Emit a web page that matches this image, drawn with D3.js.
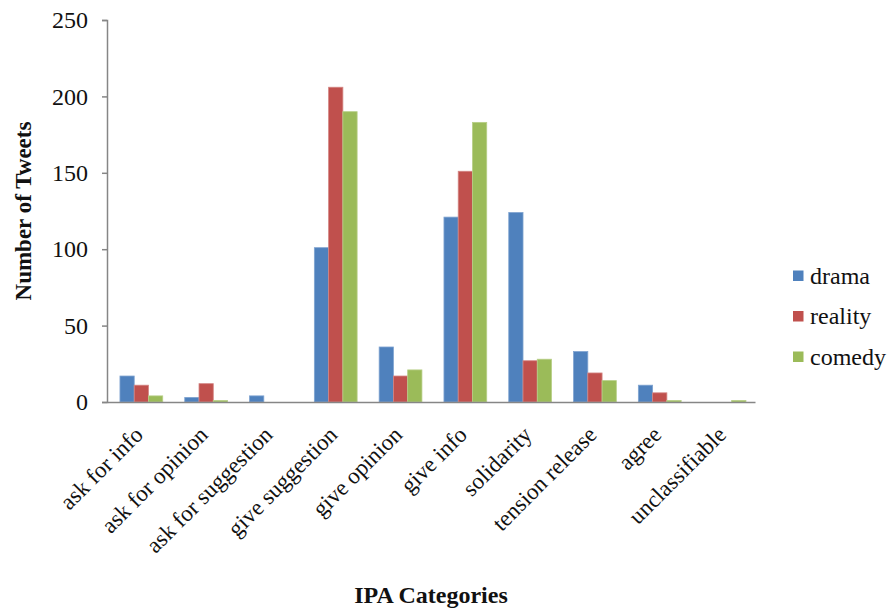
<!DOCTYPE html>
<html>
<head>
<meta charset="utf-8">
<script src="https://cdn.jsdelivr.net/npm/d3@7"></script>
<style>
  html, body { margin: 0; padding: 0; background: #fff; }
  svg text { font-family: "Liberation Serif", "Times New Roman", serif; fill: #111; }
</style>
</head>
<body>
<svg id="chart" width="887" height="609"></svg>
<script>
// IPA category counts per TV genre
const categories = ["ask for info", "ask for opinion", "ask for suggestion", "give suggestion",
  "give opinion", "give info", "solidarity", "tension release", "agree", "unclassifiable"];
const seriesNames = ["drama", "reality", "comedy"];
const drama   = [17, 3, 4, 101, 36, 121, 124, 33, 11, 0];
const reality = [11, 12, 0, 206, 17, 151, 27, 19, 6, 0];
const comedy  = [4, 1, 0, 190, 21, 183, 28, 14, 1, 1];
const yTicks  = [0, 50, 100, 150, 200, 250];
const colors  = ["#4F81BD", "#C0504D", "#9BBB59"];
const strokes = ["#7FA3D0", "#D38583", "#B7CF87"];

const seriesValues = [drama, reality, comedy];

const svg = d3.select("#chart");
const plot = { left: 107, right: 755, top: 20, bottom: 402 };

const x0 = d3.scaleBand().domain(categories).range([plot.left, plot.right]).padding(0);
const bw = x0.bandwidth();
const x1 = d3.scaleBand().domain(seriesNames).range([bw * 0.2, bw * 0.86]).padding(0);
const y = d3.scaleLinear().domain([0, 250]).range([plot.bottom, plot.top]);

// bars
const groups = svg.append("g").selectAll("g")
  .data(categories)
  .join("g")
  .attr("transform", d => `translate(${x0(d)},0)`);

groups.selectAll("rect")
  .data((c, i) => seriesNames.map((s, j) => ({ s, j, v: seriesValues[j][i] })))
  .join("rect")
  .filter(d => d.v > 0)
  .attr("x", d => x1(d.s))
  .attr("width", x1.bandwidth())
  .attr("y", d => y(d.v))
  .attr("height", d => y(0) - y(d.v))
  .attr("fill", d => colors[d.j])
  .attr("stroke", d => strokes[d.j])
  .attr("stroke-width", 0.8);

// y axis
const yAxis = svg.append("g")
  .attr("transform", `translate(${plot.left},0)`)
  .call(d3.axisLeft(y).tickValues(yTicks).tickSize(5).tickPadding(14));
yAxis.select(".domain").attr("stroke", "#868686").attr("stroke-width", 1.5);
yAxis.selectAll(".tick line").attr("stroke", "#868686").attr("stroke-width", 1.5);
yAxis.selectAll(".tick text")
  .attr("font-size", 24)
  .attr("fill", "#111");

// x axis
const xAxis = svg.append("g")
  .attr("transform", `translate(0,${plot.bottom})`)
  .call(d3.axisBottom(x0).tickSize(0).tickFormat(""));
xAxis.select(".domain").attr("stroke", "#868686").attr("stroke-width", 1.5);

// rotated category labels
svg.append("g").selectAll("text")
  .data(categories)
  .join("text")
  .attr("transform", d => `translate(${x0(d) + bw * 0.53 + 3},${plot.bottom + 34}) rotate(-45)`)
  .attr("text-anchor", "end")
  .attr("font-size", 23)
  .text(d => d);

// axis titles
svg.append("text")
  .attr("x", (plot.left + plot.right) / 2)
  .attr("y", 603)
  .attr("text-anchor", "middle")
  .attr("font-size", 24)
  .attr("font-weight", "bold")
  .text("IPA Categories");

svg.append("text")
  .attr("transform", `translate(31,${(plot.top + plot.bottom) / 2}) rotate(-90)`)
  .attr("text-anchor", "middle")
  .attr("font-size", 23)
  .attr("font-weight", "bold")
  .text("Number of Tweets");

// legend
const legend = svg.append("g").selectAll("g")
  .data(seriesNames)
  .join("g")
  .attr("transform", (d, i) => `translate(793,${276 + i * 40.5})`);
legend.append("rect")
  .attr("x", 0).attr("y", -5.5)
  .attr("width", 10.5).attr("height", 10.5)
  .attr("fill", (d, i) => colors[i]);
legend.append("text")
  .attr("x", 17).attr("y", 7.5)
  .attr("font-size", 24)
  .text(d => d);
</script>
</body>
</html>
